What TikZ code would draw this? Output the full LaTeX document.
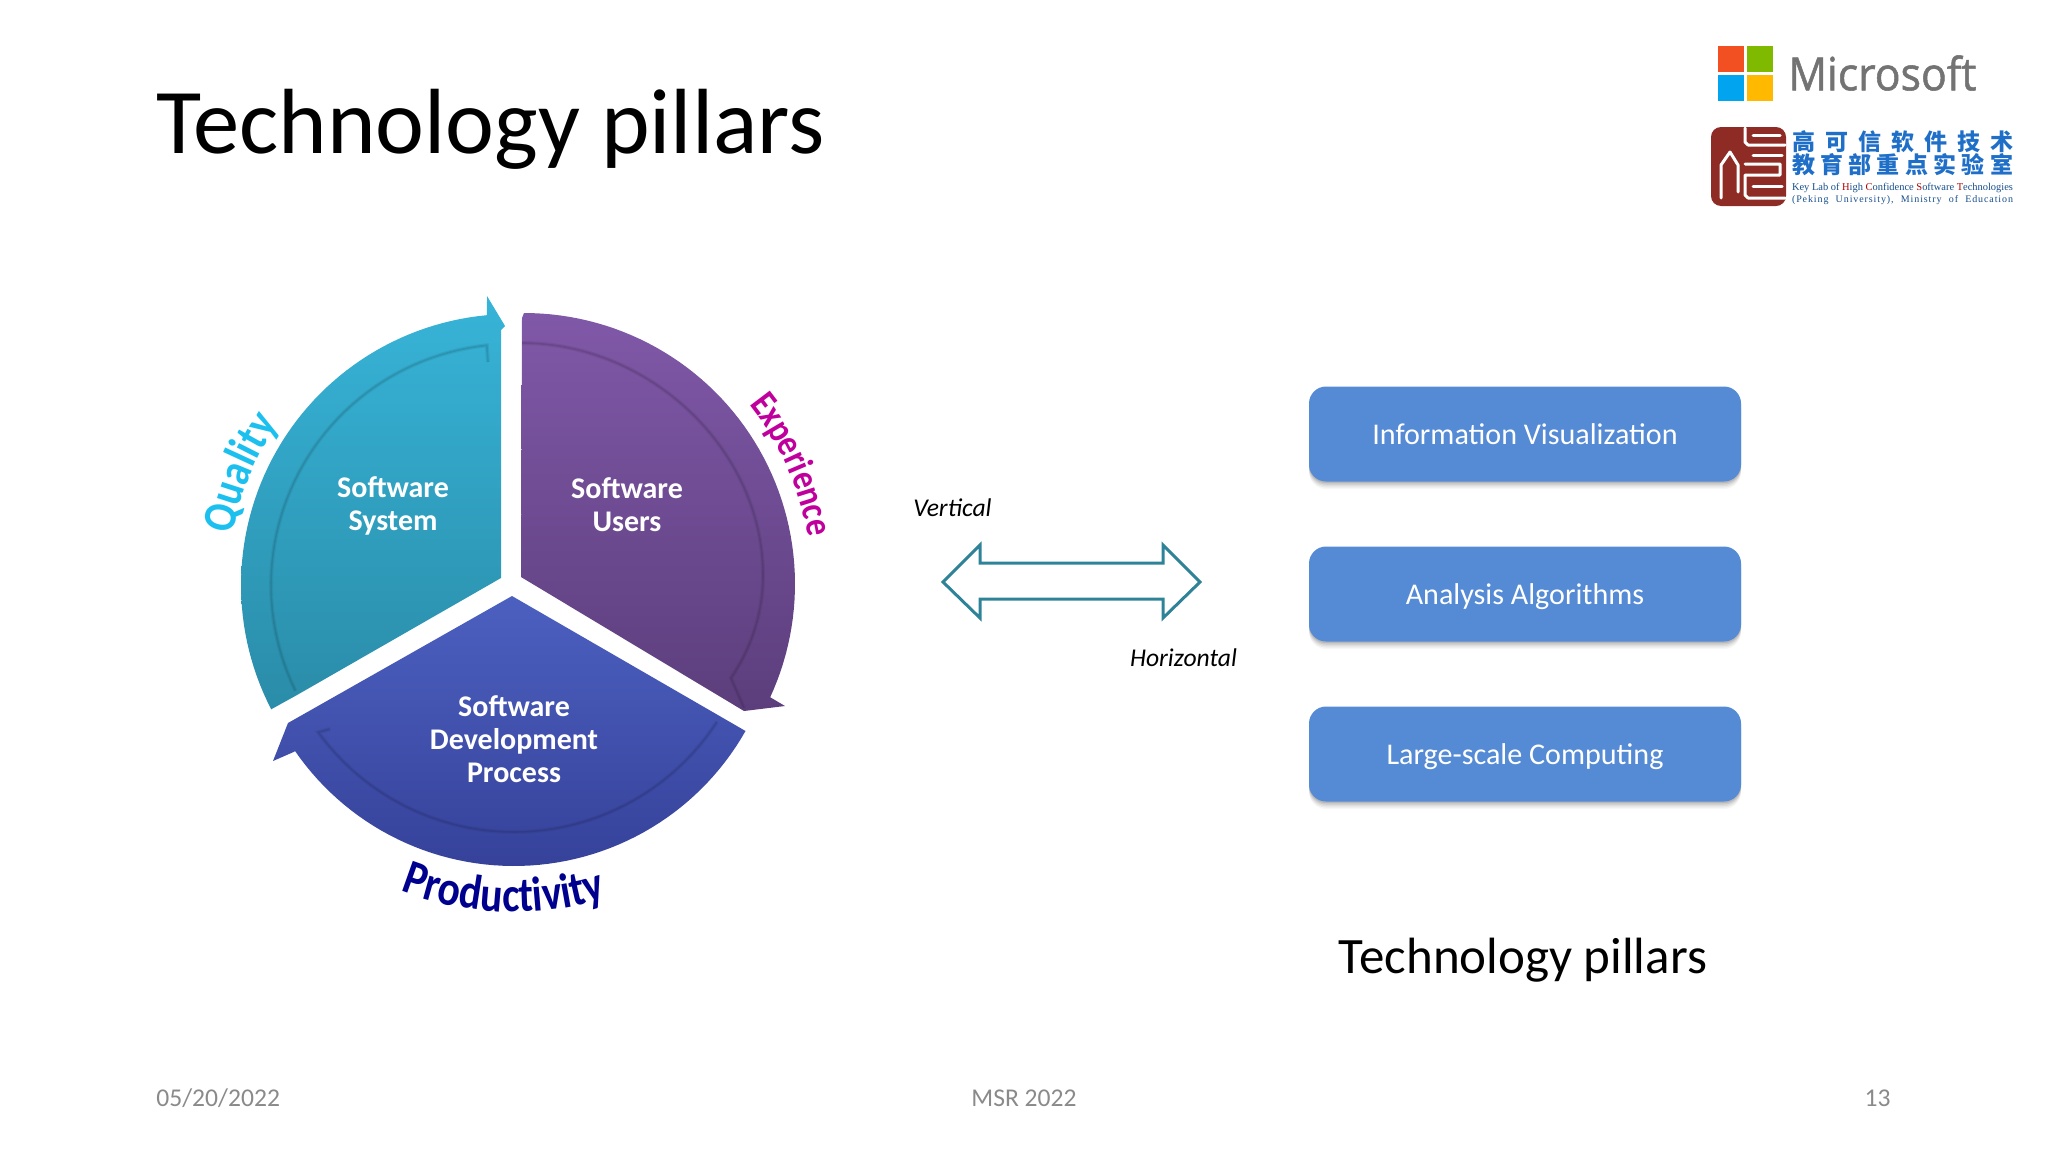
\documentclass[tikz,border=0pt]{standalone}
\usepackage{fontspec}
\usepackage{graphicx}
\usetikzlibrary{decorations.text}
\setmainfont{Carlito}
\newfontfamily\curvefont[FakeStretch=0.85]{Carlito}
\newfontfamily\cjkfont{Noto Sans CJK SC}
\newfontfamily\seriffont{Liberation Serif}
\newfontfamily\serifspaced[LetterSpace=9]{Liberation Serif}
\newfontfamily\logofont[FakeBold=1.2]{Open Sans}
\definecolor{tealA}{HTML}{37B4D8}
\definecolor{tealB}{HTML}{2A8CA8}
\definecolor{purA}{HTML}{8058A8}
\definecolor{purB}{HTML}{5C3E7C}
\definecolor{bluA}{HTML}{4C60C0}
\definecolor{bluB}{HTML}{36429A}
\definecolor{boxblue}{HTML}{558AD5}
\definecolor{arrowteal}{HTML}{2F8399}
\definecolor{footgray}{HTML}{8A8A8A}
\definecolor{qualc}{HTML}{1CC0EE}
\definecolor{expc}{HTML}{C0009C}
\definecolor{prodc}{HTML}{00008F}
\definecolor{sealred}{HTML}{8E2B24}
\definecolor{logoblue}{HTML}{1F6FC8}
\tikzset{
  x=0.5pt,y=-0.5pt,
  seglabel/.style={text=white,font=\fontsize{15}{16.4}\selectfont\bfseries,align=center,inner sep=0pt},
  pillar/.style={fill=boxblue,rounded corners=8.5pt,minimum width=216pt,minimum height=47.5pt,
     text=white,font=\fontsize{15.05}{17}\selectfont,inner sep=0pt,text height=13.5pt,text depth=3pt},
  foot/.style={text=footgray,font=\fontsize{12.8}{15}\selectfont,inner sep=0pt},
  slant/.style={text=black,font=\fontsize{12.8}{15}\selectfont\itshape,inner sep=0pt},
  bandsoft/.style={line width=2pt,draw opacity=.09},
  band/.style={line width=.8pt,draw opacity=.15},
  sealstroke/.style={draw=white,line width=1.5pt,line cap=round,line join=round},
}
\begin{document}
\begin{tikzpicture}
\useasboundingbox (0,0) rectangle (2048,1152);
% title
\node[anchor=west,inner sep=0pt,font=\fontsize{46.3}{56}\selectfont,text=black] (title) at (156,129) {Technology pillars};
% teal
\path[top color=tealA,bottom color=tealB]
  plot[domain=207.3:95.3,samples=60] ({512+271*cos(\x)},{585-271*sin(\x)})
  -- (487,296) -- (505,326) -- (501,330) -- (501,578) -- (297,695) -- cycle;
\foreach \st in {bandsoft,band}
  \draw[\st,draw=black!60!tealB]
    plot[domain=206:96,samples=50] ({512+241*cos(\x)},{585-241*sin(\x)})
    -- (488,362);
% purple
\path[top color=purA,bottom color=purB]
  (522,318) -- (524,313)
  -- plot[domain=90:-24.7,samples=60] ({524+271*cos(\x)},{584-271*sin(\x)})
  -- (785,706) -- (744,711) -- (521,577) -- cycle;
\foreach \st in {bandsoft,band}
  \draw[\st,draw=black!60!purB]
    (522,343) .. controls (650,343) and (763,450) .. (763,575)
    .. controls (763,615) and (750,650) .. (731,678) -- (744,708);
% blue
\path[top color=bluA,bottom color=bluB]
  (512,596) -- (288,723) -- (273,761) -- (293.6,752)
  -- plot[domain=-145.4:-29.5,samples=60] ({514+266*cos(\x)},{600-266*sin(\x)})
  -- cycle;
\foreach \st in {bandsoft,band}
  \draw[\st,draw=black!60!bluB]
    plot[domain=-33:-144,samples=50] ({514+242*cos(\x)},{590-242*sin(\x)})
    -- (330,729);
% segment labels
\node[seglabel] (sys) at (393,506) {Software\\System};
\node[seglabel] (usr) at (627,505) {Software\\Users};
\node[seglabel] (proc) at (514,739) {Software\\Development\\Process};
% curved labels
\path[decorate,decoration={text along path,text align=center,
   text={|\curvefont\fontsize{23.5}{27}\selectfont\bfseries\color{qualc}|Quality}}]
  plot[domain=185:130,samples=50] ({512+284*cos(\x)},{585-284*sin(\x)});
\path[decorate,decoration={text along path,text align=center,
   text={|\curvefont\fontsize{19}{24}\selectfont\bfseries\color{expc}|Experience}}]
  plot[domain=47:1,samples=50] ({524+288*cos(\x)},{584-288*sin(\x)});
\path[decorate,decoration={text along path,text align=center,
   text={|\curvefont\fontsize{24.5}{29}\selectfont\bfseries\color{prodc}|Productivity}}]
  plot[domain=-125:-59,samples=50] ({514+312*cos(\x)},{600-312*sin(\x)});
% double arrow
\draw[draw=arrowteal,line width=1.5pt,fill=white,line join=miter]
  (943,582) -- (980,545) -- (980,563) -- (1163,563) -- (1163,545) -- (1200,582)
  -- (1163,618) -- (1163,599) -- (980,599) -- (980,618) -- cycle;
\node[slant] (vert) at (952.5,508) {Vertical};
\node[slant] (horiz) at (1183.5,658) {Horizontal};
% pillars
\foreach \yy in {434,594,754}{
  \foreach \dy/\op in {1/.10,2/.08,3/.06,4/.05,5/.03}
    \fill[black,opacity=\op,rounded corners=8.5pt] (1309,\yy-47.5+\dy*1.5) rectangle (1741,\yy+47.5+\dy*1.5);
}
\node[pillar] (p1) at (1525,434) {Information Visualization};
\node[pillar] (p2) at (1525,594) {Analysis Algorithms};
\node[pillar] (p3) at (1525,754) {Large-scale Computing};
\node[font=\fontsize{25.5}{30}\selectfont,inner sep=0pt] (cap) at (1523,960) {Technology pillars};
% footer
\node[foot,anchor=west] (date) at (156,1098) {05/20/2022};
\node[foot] (conf) at (1024,1098) {MSR 2022};
\node[foot,anchor=east] (num) at (1891,1098) {13};
% Microsoft logo
\fill[fill={rgb,255:red,242;green,80;blue,34}] (1718,46) rectangle (1744,72);
\fill[fill={rgb,255:red,127;green,186;blue,0}] (1747,46) rectangle (1773,72);
\fill[fill={rgb,255:red,0;green,164;blue,239}] (1718,75) rectangle (1744,101);
\fill[fill={rgb,255:red,255;green,185;blue,0}] (1747,75) rectangle (1773,101);
\node[anchor=west,inner sep=0pt,font=\logofont,text={rgb,255:red,115;green,115;blue,115}] (ms) at (1788,73)
  {\resizebox{94pt}{17.5pt}{Microsoft}};
% seal
\fill[sealred,rounded corners=5pt] (1711,127) rectangle (1786,206);
\draw[sealstroke] (1745,128) -- (1745,142) -- (1748,145) -- (1785,145);
\draw[sealstroke] (1753,135) -- (1780,135);
\draw[sealstroke] (1753,155) -- (1782,155);
\draw[sealstroke] (1745,164) -- (1780,164) -- (1780,175) -- (1745,175) -- (1745,195) -- (1748,198) -- (1785,198);
\draw[sealstroke] (1753,186) -- (1782,186);
\draw[sealstroke] (1721,198) -- (1721,165) -- (1730,152) -- (1738,165) -- (1738,192);
% lab texts
\node[inner sep=0pt,text=logoblue,font=\cjkfont\bfseries\fontsize{11.5}{13}\selectfont] (lab1) at (1902.5,142)
  {\hbox to 110.5pt{高\hfil 可\hfil 信\hfil 软\hfil 件\hfil 技\hfil 术}};
\node[inner sep=0pt,text=logoblue,font=\cjkfont\bfseries\fontsize{11.5}{13}\selectfont] (lab2) at (1902.5,165)
  {\hbox to 110.5pt{教\hfil 育\hfil 部\hfil 重\hfil 点\hfil 实\hfil 验\hfil 室}};
\node[inner sep=0pt,text=logoblue!70!black,font=\seriffont] (lab3) at (1902.5,188)
  {\resizebox{110.5pt}{!}{Key Lab of \textcolor{red!70!black}{H}igh \textcolor{red!70!black}{C}onfidence \textcolor{red!70!black}{S}oftware \textcolor{red!70!black}{T}echnologies}};
\node[inner sep=0pt,text=logoblue!70!black,font=\serifspaced] (lab4) at (1902.5,200)
  {\hbox to 110.5pt{\fontsize{5}{6}\selectfont (Peking\hfil University),\hfil Ministry\hfil of\hfil Education}};
\end{tikzpicture}
\end{document}
